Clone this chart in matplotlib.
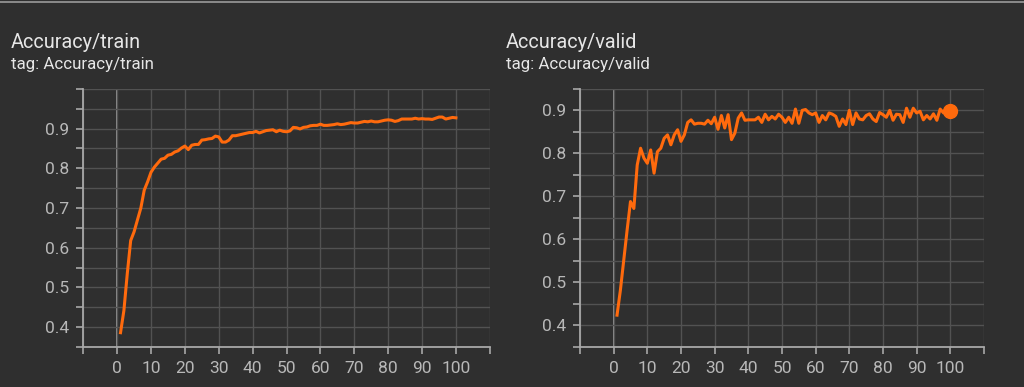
import matplotlib.pyplot as plt
import matplotlib.lines as mlines
import numpy as np

# epochs 1..100
steps = list(range(1, 101))

train_acc = [0.386, 0.442, 0.535, 0.618, 0.640, 0.670, 0.700, 0.745, 0.766, 0.790,
             0.803, 0.813, 0.823, 0.825, 0.833, 0.835, 0.841, 0.844, 0.851, 0.856,
             0.847, 0.858, 0.860, 0.860, 0.871, 0.872, 0.874, 0.875, 0.881, 0.879,
             0.866, 0.866, 0.871, 0.882, 0.882, 0.884, 0.886, 0.888, 0.890, 0.890,
             0.893, 0.889, 0.892, 0.895, 0.896, 0.897, 0.892, 0.896, 0.893, 0.892,
             0.894, 0.903, 0.902, 0.899, 0.903, 0.904, 0.907, 0.908, 0.908, 0.911,
             0.908, 0.908, 0.909, 0.910, 0.912, 0.910, 0.911, 0.913, 0.915, 0.914,
             0.914, 0.916, 0.918, 0.917, 0.919, 0.917, 0.917, 0.919, 0.921, 0.922,
             0.921, 0.918, 0.920, 0.924, 0.924, 0.924, 0.924, 0.926, 0.924, 0.925,
             0.924, 0.924, 0.923, 0.926, 0.929, 0.929, 0.924, 0.926, 0.928, 0.927]

valid_acc = [0.424, 0.482, 0.552, 0.622, 0.688, 0.672, 0.773, 0.812, 0.789, 0.777,
             0.808, 0.754, 0.804, 0.812, 0.835, 0.843, 0.820, 0.843, 0.855, 0.828,
             0.843, 0.872, 0.878, 0.868, 0.870, 0.870, 0.868, 0.877, 0.869, 0.884,
             0.856, 0.888, 0.859, 0.890, 0.832, 0.847, 0.882, 0.894, 0.877, 0.878,
             0.878, 0.878, 0.884, 0.872, 0.891, 0.878, 0.886, 0.880, 0.891, 0.884,
             0.872, 0.884, 0.870, 0.903, 0.870, 0.900, 0.902, 0.894, 0.890, 0.894,
             0.872, 0.888, 0.878, 0.894, 0.891, 0.886, 0.863, 0.880, 0.867, 0.900,
             0.867, 0.894, 0.880, 0.878, 0.888, 0.892, 0.880, 0.874, 0.895, 0.890,
             0.884, 0.900, 0.877, 0.891, 0.890, 0.872, 0.905, 0.884, 0.905, 0.894,
             0.898, 0.878, 0.888, 0.880, 0.892, 0.877, 0.903, 0.894, 0.895, 0.898]

bg = '#2f2f2f'
orange = '#ff6a0d'
txt = '#e6e6e6'
ticktxt = '#b8b8b8'
gridc = '#525252'
spinec = '#a8a8a8'

plt.rcParams['font.family'] = ['Roboto', 'DejaVu Sans']

fig = plt.figure(figsize=(10.24, 3.87), dpi=100)
fig.set_facecolor(bg)

# top border of the card
fig.add_artist(mlines.Line2D([0, 1], [1 - 1.5/387, 1 - 1.5/387], transform=fig.transFigure,
                             color='#9a9a9a', lw=1.2))


def panel(rect, ys, ytop, title, tx, last_dot=False):
    ax = fig.add_axes(rect)
    ax.set_facecolor(bg)
    ax.set_xlim(-10, 110)
    ax.set_ylim(0.35, ytop)
    ax.set_xticks(np.arange(-10, 111, 10))
    ax.set_xticklabels(['' if (v < 0 or v > 100) else str(v) for v in range(-10, 111, 10)])
    yt = np.round(np.arange(0.35, ytop + 0.001, 0.05), 2)
    ax.set_yticks(yt)
    ax.set_yticklabels(['%.1f' % v if (abs(v * 10 - round(v * 10)) < 1e-6 and v < 0.95) else ''
                        for v in yt])
    ax.grid(True, color=gridc, lw=1)
    ax.axvline(0, color='#9c9c9c', lw=1.3, zorder=1.5)
    for s in ['top', 'right']:
        ax.spines[s].set_visible(False)
    for s in ['left', 'bottom']:
        ax.spines[s].set_color(spinec)
        ax.spines[s].set_linewidth(1.3)
    ax.tick_params(colors=spinec, labelcolor=ticktxt, labelsize=12.5, length=5, width=1.2, pad=5)
    ax.plot(steps, ys, color=orange, lw=2.2, zorder=3, solid_joinstyle='round')
    if last_dot:
        ax.plot(steps[-1], ys[-1], 'o', color=orange, ms=10, zorder=4)
    fig.text(tx, 1 - 43/387, title, color=txt, fontsize=14.3, va='center')
    fig.text(tx, 1 - 65/387, 'tag: ' + title, color=txt, fontsize=12.2, va='center')
    return ax


panel([0.0813, 0.1034, 0.397, 0.667], train_acc, 1.0, 'Accuracy/train', 11/1024)
panel([0.5664, 0.1034, 0.3945, 0.667], valid_acc, 0.95, 'Accuracy/valid', 506/1024, last_dot=True)

fig.savefig('out.png', dpi=100, facecolor=bg)
